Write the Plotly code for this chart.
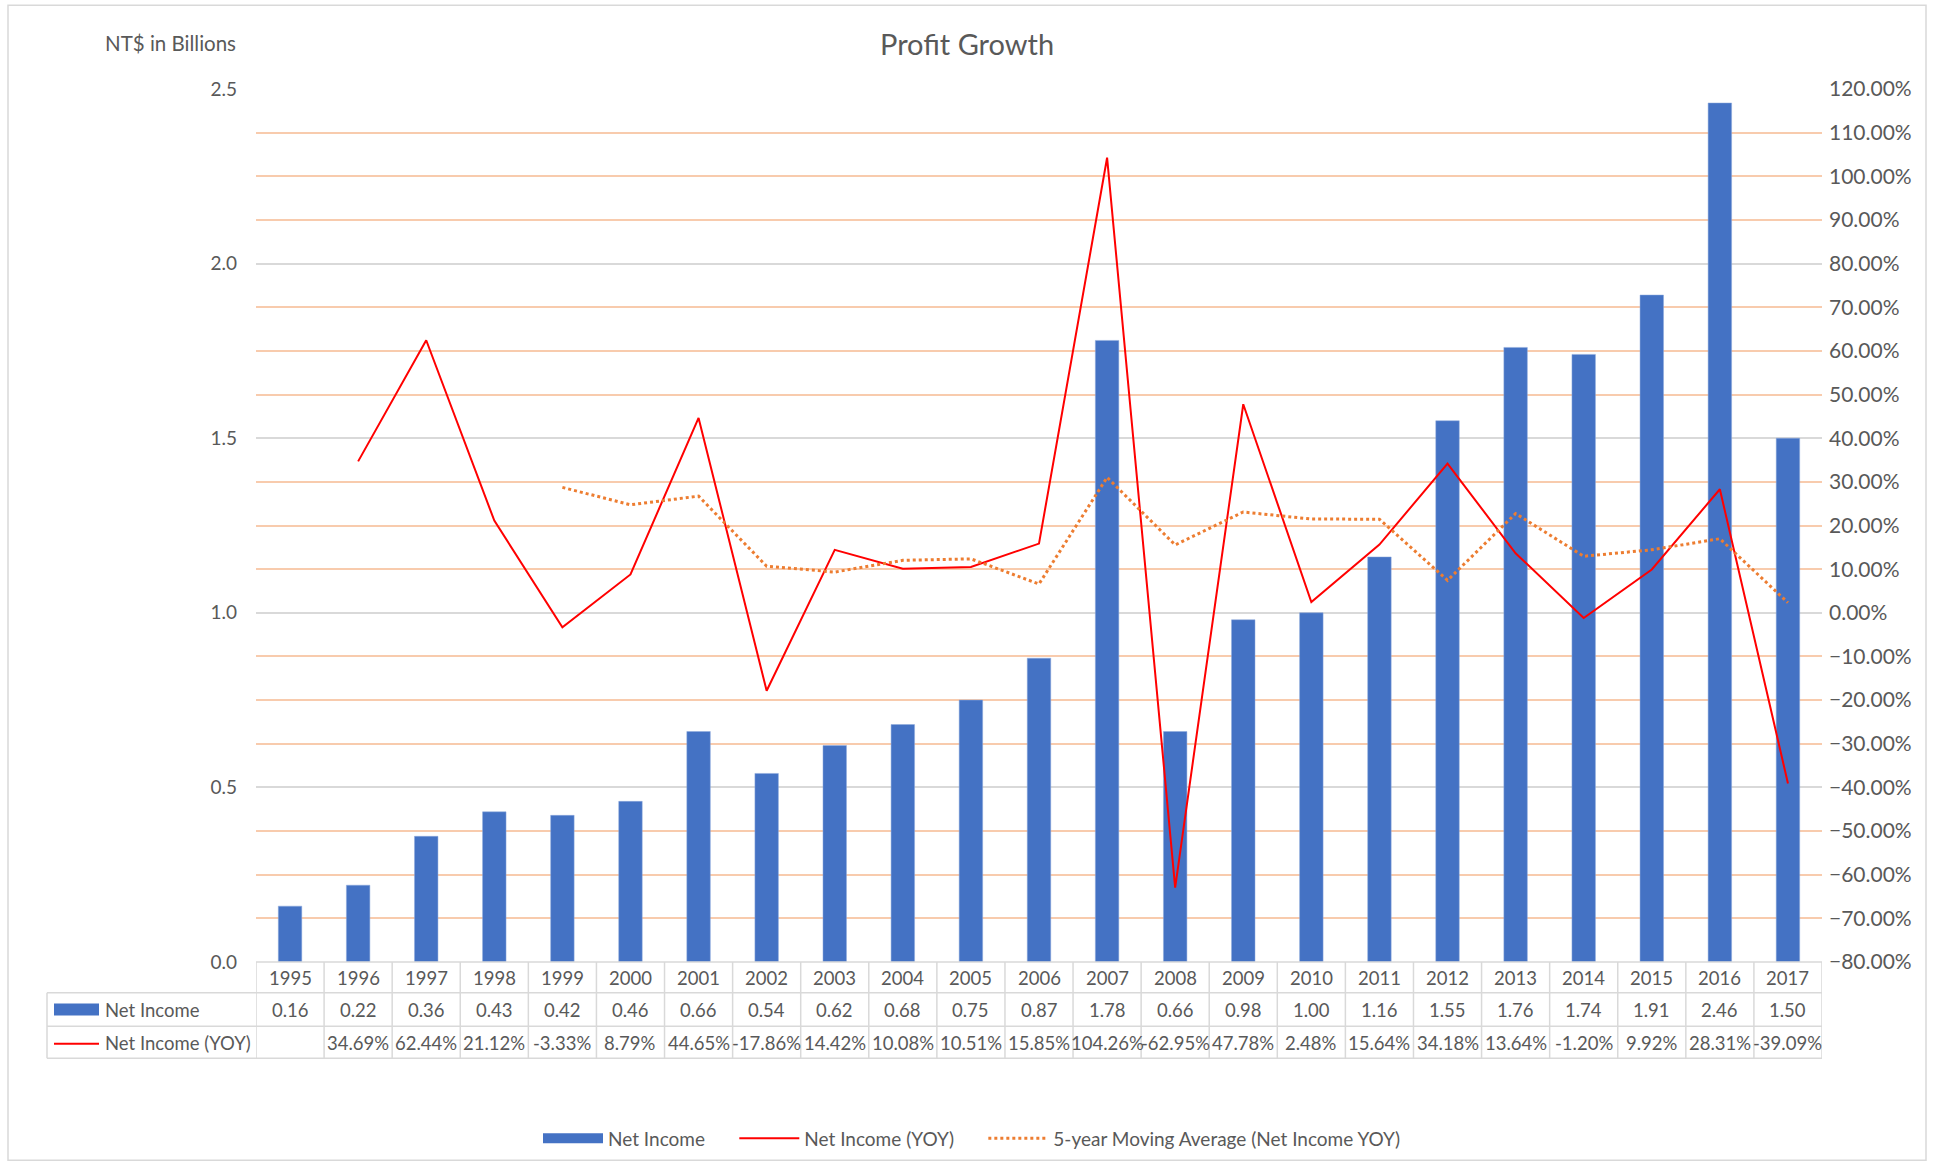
import plotly.graph_objects as go

years = [str(y) for y in range(1995, 2018)]
net_income = [0.16, 0.22, 0.36, 0.43, 0.42, 0.46, 0.66, 0.54, 0.62, 0.68, 0.75, 0.87,
              1.78, 0.66, 0.98, 1.00, 1.16, 1.55, 1.76, 1.74, 1.91, 2.46, 1.50]
yoy = [None, 34.69, 62.44, 21.12, -3.33, 8.79, 44.65, -17.86, 14.42, 10.08, 10.51, 15.85,
       104.26, -62.95, 47.78, 2.48, 15.64, 34.18, 13.64, -1.20, 9.92, 28.31, -39.09]
ma5_yoy = [None, None, None, None, 28.73, 24.74, 26.73, 10.67, 9.33, 12.02, 12.36, 6.60,
           31.02, 15.55, 23.09, 21.48, 21.44, 7.43, 22.74, 12.95, 14.44, 16.97, 2.32]

FONT = "Lato"
GREY_TXT = "#595959"
BLUE = "#4472C4"
RED = "#FF0000"
ORANGE = "#ED7D31"
GRID_GREY = "#D9D9D9"
GRID_ORANGE = "#F8CBAD"

# figure geometry (px)
W, H = 1937, 1168
ml, mr, mt = 256, 115, 89
plot_bottom = 963.5
mb = H - plot_bottom
pw, ph = W - ml - mr, H - mt - mb


def px_x(p):  # pixel -> paper x
    return (p - ml) / pw


def px_y(p):  # pixel -> paper y
    return 1 - (p - mt) / ph


fig = go.Figure()

fig.add_trace(go.Bar(x=years, y=net_income, name="Net Income", showlegend=False,
                     marker=dict(color=BLUE, line=dict(color="#8FAADC", width=0.5)),
                     xaxis="x", yaxis="y"))
# legend key for the bars (wide swatch like Excel)
fig.add_trace(go.Scatter(x=[years[0]], y=[None], name="Net Income\u00a0\u00a0\u00a0\u00a0\u00a0",
                         mode="lines", line=dict(color=BLUE, width=10), yaxis="y"))
fig.add_trace(go.Scatter(x=years, y=yoy, name="Net Income (YOY)\u00a0\u00a0\u00a0\u00a0\u00a0",
                         mode="lines", line=dict(color=RED, width=2), xaxis="x", yaxis="y2"))
fig.add_trace(go.Scatter(x=years, y=ma5_yoy, name="5-year Moving Average (Net Income YOY)",
                         mode="lines", line=dict(color=ORANGE, width=3, dash="dot"),
                         xaxis="x", yaxis="y2"))
# invisible trace so the orange grid axis is drawn
fig.add_trace(go.Scatter(x=[years[0]], y=[0], yaxis="y3", xaxis="x", mode="markers",
                         marker=dict(opacity=0), showlegend=False, hoverinfo="skip"))

# ---- data table under the chart ----
row_edges = [963.5, 994.4, 1027.8, 1060]
row_mid = [980, 1012, 1045]
table_left = 47
tfont = dict(family=FONT, size=18.5, color=GREY_TXT)

annotations = []
shapes = []
for i, yr in enumerate(years):
    # category axis: annotation x is the category's serial number
    annotations.append(dict(text=yr, x=i, xref="x", y=px_y(row_mid[0]), yref="paper",
                            yanchor="middle", showarrow=False, font=tfont))
    annotations.append(dict(text="%.2f" % net_income[i], x=i, xref="x", y=px_y(row_mid[1]),
                            yref="paper", yanchor="middle", showarrow=False, font=tfont))
    if yoy[i] is not None:
        annotations.append(dict(text="%.2f%%" % yoy[i], x=i, xref="x", y=px_y(row_mid[2]),
                                yref="paper", yanchor="middle", showarrow=False, font=tfont))
annotations.append(dict(text="Net Income", x=px_x(103), y=px_y(row_mid[1]), xref="paper",
                        yref="paper", xanchor="left", yanchor="middle", showarrow=False,
                        font=tfont))
annotations.append(dict(text="Net Income (YOY)", x=px_x(103), y=px_y(row_mid[2]), xref="paper",
                        yref="paper", xanchor="left", yanchor="middle", showarrow=False,
                        font=tfont))

line_style = dict(color=GRID_GREY, width=1.5)
# horizontal rules
shapes.append(dict(type="line", xref="paper", yref="paper", x0=0, x1=1,
                   y0=px_y(row_edges[0]), y1=px_y(row_edges[0]), line=line_style))
for e in row_edges[1:]:
    shapes.append(dict(type="line", xref="paper", yref="paper", x0=px_x(table_left), x1=1,
                       y0=px_y(e), y1=px_y(e), line=line_style))
# vertical rules
shapes.append(dict(type="line", xref="paper", yref="paper", x0=px_x(table_left),
                   x1=px_x(table_left), y0=px_y(row_edges[1]), y1=px_y(row_edges[3]),
                   line=line_style))
for k in range(len(years) + 1):
    shapes.append(dict(type="line", xref="x", yref="paper", x0=k - 0.5, x1=k - 0.5,
                       y0=px_y(row_edges[0]), y1=px_y(row_edges[3]), line=line_style))
# legend keys inside the table
shapes.append(dict(type="rect", xref="paper", yref="paper", x0=px_x(54), x1=px_x(99),
                   y0=px_y(1005), y1=px_y(1017), fillcolor=BLUE, line=dict(width=0)))
shapes.append(dict(type="line", xref="paper", yref="paper", x0=px_x(54), x1=px_x(99),
                   y0=px_y(1045.5), y1=px_y(1045.5), line=dict(color=RED, width=2)))
# chart-area border
shapes.append(dict(type="rect", xref="paper", yref="paper", x0=px_x(8), x1=px_x(1926),
                   y0=px_y(1162), y1=px_y(5), line=dict(color=GRID_GREY, width=1.5),
                   layer="below"))

annotations.append(dict(text="Profit Growth", x=px_x(967), y=px_y(43), xref="paper",
                        yref="paper", xanchor="center", yanchor="middle", showarrow=False,
                        font=dict(family=FONT, size=29, color=GREY_TXT)))
annotations.append(dict(text="NT$ in Billions", x=px_x(103), y=px_y(43), xref="paper",
                        yref="paper", xanchor="left", yanchor="middle", showarrow=False,
                        font=dict(family=FONT, size=20.5, color=GREY_TXT)))

fig.update_layout(
    width=W, height=H,
    margin=dict(l=ml, r=mr, t=mt, b=mb),
    plot_bgcolor="white", paper_bgcolor="white",
    font=dict(family=FONT, size=19, color=GREY_TXT),
    bargap=0.655,
    showlegend=True,
    legend=dict(orientation="h", x=px_x(972), xanchor="center", y=px_y(1139),
                yanchor="middle", font=dict(family=FONT, size=19, color=GREY_TXT),
                itemwidth=60),
    xaxis=dict(showticklabels=False, showgrid=False, showline=False, zeroline=False,
               ticks="", range=[-0.5, len(years) - 0.5]),
    yaxis=dict(range=[0, 2.5], dtick=0.5, tickformat=".1f",
               showgrid=True, gridcolor=GRID_GREY, gridwidth=1.5, zeroline=False,
               showline=False, ticklabelstandoff=18,
               tickfont=dict(family=FONT, size=19, color=GREY_TXT)),
    yaxis2=dict(overlaying="y", side="right", anchor="x", range=[-80, 120], dtick=10,
                tickformat=".2f", ticksuffix="%", showgrid=False, zeroline=False,
                showline=False, ticklabelstandoff=6,
                tickfont=dict(family=FONT, size=21, color=GREY_TXT)),
    yaxis3=dict(overlaying="y", side="right", anchor="x", range=[-80, 120],
                tickvals=[v for v in range(-70, 120, 10) if v % 40 != 0],
                showticklabels=False, showgrid=True, gridcolor=GRID_ORANGE, gridwidth=1.5,
                zeroline=False, showline=False),
    annotations=annotations,
    shapes=shapes,
)

fig.write_html("out.html", config={"displayModeBar": False},
               post_script="document.body.style.margin='0px';")
